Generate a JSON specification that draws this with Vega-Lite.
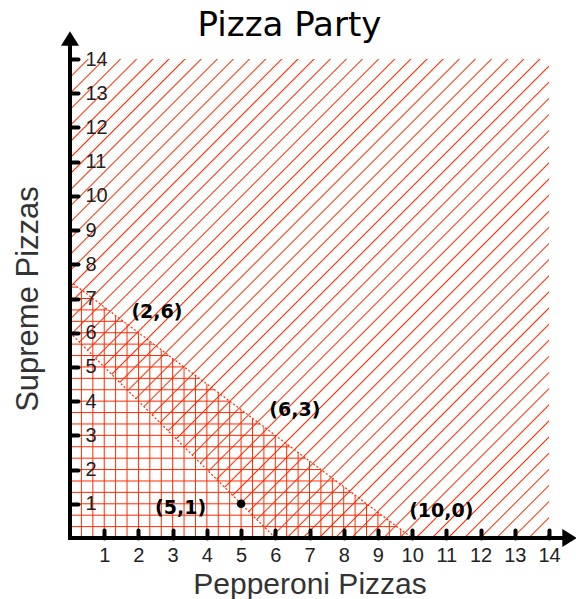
{
  "$schema": "https://vega.github.io/schema/vega-lite/v6.json",
  "width": 479,
  "height": 479,
  "autosize": {"type": "none"},
  "padding": {"left": 70, "top": 59, "right": 27, "bottom": 61},
  "background": "white",
  "title": {"text": "Pizza Party", "font": "DejaVu Sans", "fontSize": 34, "fontWeight": "normal", "color": "black", "anchor": "middle", "frame": "group", "dx": -20, "dy": 39, "baseline": "alphabetic", "offset": 0},
  "config": {
    "view": {"stroke": null},
    "axis": {"labelOverlap": false, "labelFlush": false, "tickCount": 14, "domain": false, "grid": false,
      "tickColor": "black", "tickWidth": 4, "tickSize": -8, "tickCap": "round",
      "labelFont": "Liberation Sans", "labelFontSize": 20, "labelColor": "#222",
      "titleFont": "Liberation Sans", "titleFontWeight": "normal", "titleColor": "#333"}
  },
  "datasets": {
    "atLeastSix": [{"x": 0, "y": 6}, {"x": 6, "y": 0}, {"x": 14, "y": 0}],
    "budget": [{"x": 0, "y": 7.5}, {"x": 10, "y": 0}],
    "points": [
      {"x": 2, "y": 6, "label": "(2,6)"},
      {"x": 6, "y": 3, "label": "(6,3)"},
      {"x": 10, "y": 0, "label": "(10,0)"},
      {"x": 5, "y": 1, "label": "(5,1)"}
    ]
  },
  "layer": [
    {
      "data": {"name": "budget"},
      "mark": {"type": "area", "fill": {"gradient": "linear", "x1": 0, "y1": 0, "x2": 1, "y2": 0, "stops": [
        {"offset": 0, "color": "rgba(255,42,0,0)"},
        {"offset": 0.0304, "color": "rgba(255,42,0,0)"}, {"offset": 0.0333, "color": "#ff2a00"}, {"offset": 0.0362, "color": "rgba(255,42,0,0)"},
        {"offset": 0.0638, "color": "rgba(255,42,0,0)"}, {"offset": 0.0667, "color": "#ff2a00"}, {"offset": 0.0696, "color": "rgba(255,42,0,0)"},
        {"offset": 0.0971, "color": "rgba(255,42,0,0)"}, {"offset": 0.1, "color": "#ff2a00"}, {"offset": 0.1029, "color": "rgba(255,42,0,0)"},
        {"offset": 0.1304, "color": "rgba(255,42,0,0)"}, {"offset": 0.1333, "color": "#ff2a00"}, {"offset": 0.1362, "color": "rgba(255,42,0,0)"},
        {"offset": 0.1638, "color": "rgba(255,42,0,0)"}, {"offset": 0.1667, "color": "#ff2a00"}, {"offset": 0.1696, "color": "rgba(255,42,0,0)"},
        {"offset": 0.1971, "color": "rgba(255,42,0,0)"}, {"offset": 0.2, "color": "#ff2a00"}, {"offset": 0.2029, "color": "rgba(255,42,0,0)"},
        {"offset": 0.2304, "color": "rgba(255,42,0,0)"}, {"offset": 0.2333, "color": "#ff2a00"}, {"offset": 0.2362, "color": "rgba(255,42,0,0)"},
        {"offset": 0.2638, "color": "rgba(255,42,0,0)"}, {"offset": 0.2667, "color": "#ff2a00"}, {"offset": 0.2696, "color": "rgba(255,42,0,0)"},
        {"offset": 0.2971, "color": "rgba(255,42,0,0)"}, {"offset": 0.3, "color": "#ff2a00"}, {"offset": 0.3029, "color": "rgba(255,42,0,0)"},
        {"offset": 0.3304, "color": "rgba(255,42,0,0)"}, {"offset": 0.3333, "color": "#ff2a00"}, {"offset": 0.3362, "color": "rgba(255,42,0,0)"},
        {"offset": 0.3638, "color": "rgba(255,42,0,0)"}, {"offset": 0.3667, "color": "#ff2a00"}, {"offset": 0.3696, "color": "rgba(255,42,0,0)"},
        {"offset": 0.3971, "color": "rgba(255,42,0,0)"}, {"offset": 0.4, "color": "#ff2a00"}, {"offset": 0.4029, "color": "rgba(255,42,0,0)"},
        {"offset": 0.4304, "color": "rgba(255,42,0,0)"}, {"offset": 0.4333, "color": "#ff2a00"}, {"offset": 0.4362, "color": "rgba(255,42,0,0)"},
        {"offset": 0.4638, "color": "rgba(255,42,0,0)"}, {"offset": 0.4667, "color": "#ff2a00"}, {"offset": 0.4696, "color": "rgba(255,42,0,0)"},
        {"offset": 0.4971, "color": "rgba(255,42,0,0)"}, {"offset": 0.5, "color": "#ff2a00"}, {"offset": 0.5029, "color": "rgba(255,42,0,0)"},
        {"offset": 0.5304, "color": "rgba(255,42,0,0)"}, {"offset": 0.5333, "color": "#ff2a00"}, {"offset": 0.5362, "color": "rgba(255,42,0,0)"},
        {"offset": 0.5638, "color": "rgba(255,42,0,0)"}, {"offset": 0.5667, "color": "#ff2a00"}, {"offset": 0.5696, "color": "rgba(255,42,0,0)"},
        {"offset": 0.5971, "color": "rgba(255,42,0,0)"}, {"offset": 0.6, "color": "#ff2a00"}, {"offset": 0.6029, "color": "rgba(255,42,0,0)"},
        {"offset": 0.6304, "color": "rgba(255,42,0,0)"}, {"offset": 0.6333, "color": "#ff2a00"}, {"offset": 0.6362, "color": "rgba(255,42,0,0)"},
        {"offset": 0.6638, "color": "rgba(255,42,0,0)"}, {"offset": 0.6667, "color": "#ff2a00"}, {"offset": 0.6696, "color": "rgba(255,42,0,0)"},
        {"offset": 0.6971, "color": "rgba(255,42,0,0)"}, {"offset": 0.7, "color": "#ff2a00"}, {"offset": 0.7029, "color": "rgba(255,42,0,0)"},
        {"offset": 0.7304, "color": "rgba(255,42,0,0)"}, {"offset": 0.7333, "color": "#ff2a00"}, {"offset": 0.7362, "color": "rgba(255,42,0,0)"},
        {"offset": 0.7638, "color": "rgba(255,42,0,0)"}, {"offset": 0.7667, "color": "#ff2a00"}, {"offset": 0.7696, "color": "rgba(255,42,0,0)"},
        {"offset": 0.7971, "color": "rgba(255,42,0,0)"}, {"offset": 0.8, "color": "#ff2a00"}, {"offset": 0.8029, "color": "rgba(255,42,0,0)"},
        {"offset": 0.8304, "color": "rgba(255,42,0,0)"}, {"offset": 0.8333, "color": "#ff2a00"}, {"offset": 0.8362, "color": "rgba(255,42,0,0)"},
        {"offset": 0.8638, "color": "rgba(255,42,0,0)"}, {"offset": 0.8667, "color": "#ff2a00"}, {"offset": 0.8696, "color": "rgba(255,42,0,0)"},
        {"offset": 0.8971, "color": "rgba(255,42,0,0)"}, {"offset": 0.9, "color": "#ff2a00"}, {"offset": 0.9029, "color": "rgba(255,42,0,0)"},
        {"offset": 0.9304, "color": "rgba(255,42,0,0)"}, {"offset": 0.9333, "color": "#ff2a00"}, {"offset": 0.9362, "color": "rgba(255,42,0,0)"},
        {"offset": 0.9638, "color": "rgba(255,42,0,0)"}, {"offset": 0.9667, "color": "#ff2a00"}, {"offset": 0.9696, "color": "rgba(255,42,0,0)"},
        {"offset": 1, "color": "rgba(255,42,0,0)"}
      ]}},
      "encoding": {
        "x": {"field": "x", "type": "quantitative", "scale": {"domain": [0, 14], "nice": false},
          "axis": {"title": "Pepperoni Pizzas", "values": [1,2,3,4,5,6,7,8,9,10,11,12,13,14], "tickCount": 14,
            "labelPadding": 15.5, "labelBaseline": "top", "labelOverlap": false, "labelFlush": false,
            "titleFontSize": 30, "titleY": 55, "titleBaseline": "alphabetic", "zindex": 1}},
        "y": {"field": "y", "type": "quantitative", "scale": {"domain": [0, 14], "nice": false},
          "axis": {"title": "Supreme Pizzas", "values": [1,2,3,4,5,6,7,8,9,10,11,12,13,14], "tickCount": 14,
            "labelPadding": -7, "labelAlign": "left", "labelBaseline": "middle", "labelOverlap": false, "labelFlush": false,
            "titleFontSize": 31, "titleX": -33, "titleY": 239.5, "titleAngle": -90, "titleBaseline": "alphabetic", "zindex": 1}},
        "y2": {"datum": 0}
      }
    },
    {
      "data": {"name": "budget"},
      "mark": {"type": "area", "fill": {"gradient": "linear", "x1": 0, "y1": 0, "x2": 0, "y2": 1, "stops": [
        {"offset": 0, "color": "rgba(255,42,0,0)"},
        {"offset": 0.0183, "color": "rgba(255,42,0,0)"}, {"offset": 0.0222, "color": "#ff2a00"}, {"offset": 0.0261, "color": "rgba(255,42,0,0)"},
        {"offset": 0.0628, "color": "rgba(255,42,0,0)"}, {"offset": 0.0667, "color": "#ff2a00"}, {"offset": 0.0706, "color": "rgba(255,42,0,0)"},
        {"offset": 0.1072, "color": "rgba(255,42,0,0)"}, {"offset": 0.1111, "color": "#ff2a00"}, {"offset": 0.1150, "color": "rgba(255,42,0,0)"},
        {"offset": 0.1517, "color": "rgba(255,42,0,0)"}, {"offset": 0.1556, "color": "#ff2a00"}, {"offset": 0.1595, "color": "rgba(255,42,0,0)"},
        {"offset": 0.1961, "color": "rgba(255,42,0,0)"}, {"offset": 0.2, "color": "#ff2a00"}, {"offset": 0.2039, "color": "rgba(255,42,0,0)"},
        {"offset": 0.2405, "color": "rgba(255,42,0,0)"}, {"offset": 0.2444, "color": "#ff2a00"}, {"offset": 0.2483, "color": "rgba(255,42,0,0)"},
        {"offset": 0.2850, "color": "rgba(255,42,0,0)"}, {"offset": 0.2889, "color": "#ff2a00"}, {"offset": 0.2928, "color": "rgba(255,42,0,0)"},
        {"offset": 0.3294, "color": "rgba(255,42,0,0)"}, {"offset": 0.3333, "color": "#ff2a00"}, {"offset": 0.3372, "color": "rgba(255,42,0,0)"},
        {"offset": 0.3739, "color": "rgba(255,42,0,0)"}, {"offset": 0.3778, "color": "#ff2a00"}, {"offset": 0.3817, "color": "rgba(255,42,0,0)"},
        {"offset": 0.4183, "color": "rgba(255,42,0,0)"}, {"offset": 0.4222, "color": "#ff2a00"}, {"offset": 0.4261, "color": "rgba(255,42,0,0)"},
        {"offset": 0.4628, "color": "rgba(255,42,0,0)"}, {"offset": 0.4667, "color": "#ff2a00"}, {"offset": 0.4706, "color": "rgba(255,42,0,0)"},
        {"offset": 0.5072, "color": "rgba(255,42,0,0)"}, {"offset": 0.5111, "color": "#ff2a00"}, {"offset": 0.5150, "color": "rgba(255,42,0,0)"},
        {"offset": 0.5517, "color": "rgba(255,42,0,0)"}, {"offset": 0.5556, "color": "#ff2a00"}, {"offset": 0.5595, "color": "rgba(255,42,0,0)"},
        {"offset": 0.5961, "color": "rgba(255,42,0,0)"}, {"offset": 0.6, "color": "#ff2a00"}, {"offset": 0.6039, "color": "rgba(255,42,0,0)"},
        {"offset": 0.6405, "color": "rgba(255,42,0,0)"}, {"offset": 0.6444, "color": "#ff2a00"}, {"offset": 0.6483, "color": "rgba(255,42,0,0)"},
        {"offset": 0.6850, "color": "rgba(255,42,0,0)"}, {"offset": 0.6889, "color": "#ff2a00"}, {"offset": 0.6928, "color": "rgba(255,42,0,0)"},
        {"offset": 0.7294, "color": "rgba(255,42,0,0)"}, {"offset": 0.7333, "color": "#ff2a00"}, {"offset": 0.7372, "color": "rgba(255,42,0,0)"},
        {"offset": 0.7739, "color": "rgba(255,42,0,0)"}, {"offset": 0.7778, "color": "#ff2a00"}, {"offset": 0.7817, "color": "rgba(255,42,0,0)"},
        {"offset": 0.8183, "color": "rgba(255,42,0,0)"}, {"offset": 0.8222, "color": "#ff2a00"}, {"offset": 0.8261, "color": "rgba(255,42,0,0)"},
        {"offset": 0.8628, "color": "rgba(255,42,0,0)"}, {"offset": 0.8667, "color": "#ff2a00"}, {"offset": 0.8706, "color": "rgba(255,42,0,0)"},
        {"offset": 0.9072, "color": "rgba(255,42,0,0)"}, {"offset": 0.9111, "color": "#ff2a00"}, {"offset": 0.9150, "color": "rgba(255,42,0,0)"},
        {"offset": 0.9517, "color": "rgba(255,42,0,0)"}, {"offset": 0.9556, "color": "#ff2a00"}, {"offset": 0.9595, "color": "rgba(255,42,0,0)"},
        {"offset": 1, "color": "rgba(255,42,0,0)"}
      ]}},
      "encoding": {
        "x": {"field": "x", "type": "quantitative"},
        "y": {"field": "y", "type": "quantitative"},
        "y2": {"datum": 0}
      }
    },
    {
      "data": {"name": "atLeastSix"},
      "mark": {"type": "area", "fill": {"gradient": "linear", "x1": 0, "y1": 0, "x2": 1, "y2": 1, "stops": [
        {"offset": 0, "color": "rgba(255,42,0,0)"},
        {"offset": 0.0176, "color": "rgba(255,42,0,0)"}, {"offset": 0.0191, "color": "#ff2a00"}, {"offset": 0.0206, "color": "rgba(255,42,0,0)"},
        {"offset": 0.0344, "color": "rgba(255,42,0,0)"}, {"offset": 0.0359, "color": "#ff2a00"}, {"offset": 0.0374, "color": "rgba(255,42,0,0)"},
        {"offset": 0.0513, "color": "rgba(255,42,0,0)"}, {"offset": 0.0528, "color": "#ff2a00"}, {"offset": 0.0543, "color": "rgba(255,42,0,0)"},
        {"offset": 0.0681, "color": "rgba(255,42,0,0)"}, {"offset": 0.0696, "color": "#ff2a00"}, {"offset": 0.0711, "color": "rgba(255,42,0,0)"},
        {"offset": 0.0850, "color": "rgba(255,42,0,0)"}, {"offset": 0.0865, "color": "#ff2a00"}, {"offset": 0.0880, "color": "rgba(255,42,0,0)"},
        {"offset": 0.1018, "color": "rgba(255,42,0,0)"}, {"offset": 0.1033, "color": "#ff2a00"}, {"offset": 0.1048, "color": "rgba(255,42,0,0)"},
        {"offset": 0.1186, "color": "rgba(255,42,0,0)"}, {"offset": 0.1201, "color": "#ff2a00"}, {"offset": 0.1216, "color": "rgba(255,42,0,0)"},
        {"offset": 0.1355, "color": "rgba(255,42,0,0)"}, {"offset": 0.1370, "color": "#ff2a00"}, {"offset": 0.1385, "color": "rgba(255,42,0,0)"},
        {"offset": 0.1523, "color": "rgba(255,42,0,0)"}, {"offset": 0.1538, "color": "#ff2a00"}, {"offset": 0.1553, "color": "rgba(255,42,0,0)"},
        {"offset": 0.1691, "color": "rgba(255,42,0,0)"}, {"offset": 0.1706, "color": "#ff2a00"}, {"offset": 0.1721, "color": "rgba(255,42,0,0)"},
        {"offset": 0.1860, "color": "rgba(255,42,0,0)"}, {"offset": 0.1875, "color": "#ff2a00"}, {"offset": 0.1890, "color": "rgba(255,42,0,0)"},
        {"offset": 0.2028, "color": "rgba(255,42,0,0)"}, {"offset": 0.2043, "color": "#ff2a00"}, {"offset": 0.2058, "color": "rgba(255,42,0,0)"},
        {"offset": 0.2196, "color": "rgba(255,42,0,0)"}, {"offset": 0.2211, "color": "#ff2a00"}, {"offset": 0.2226, "color": "rgba(255,42,0,0)"},
        {"offset": 0.2365, "color": "rgba(255,42,0,0)"}, {"offset": 0.2380, "color": "#ff2a00"}, {"offset": 0.2395, "color": "rgba(255,42,0,0)"},
        {"offset": 0.2533, "color": "rgba(255,42,0,0)"}, {"offset": 0.2548, "color": "#ff2a00"}, {"offset": 0.2563, "color": "rgba(255,42,0,0)"},
        {"offset": 0.2702, "color": "rgba(255,42,0,0)"}, {"offset": 0.2717, "color": "#ff2a00"}, {"offset": 0.2732, "color": "rgba(255,42,0,0)"},
        {"offset": 0.2870, "color": "rgba(255,42,0,0)"}, {"offset": 0.2885, "color": "#ff2a00"}, {"offset": 0.2900, "color": "rgba(255,42,0,0)"},
        {"offset": 0.3038, "color": "rgba(255,42,0,0)"}, {"offset": 0.3053, "color": "#ff2a00"}, {"offset": 0.3068, "color": "rgba(255,42,0,0)"},
        {"offset": 0.3207, "color": "rgba(255,42,0,0)"}, {"offset": 0.3222, "color": "#ff2a00"}, {"offset": 0.3237, "color": "rgba(255,42,0,0)"},
        {"offset": 0.3375, "color": "rgba(255,42,0,0)"}, {"offset": 0.3390, "color": "#ff2a00"}, {"offset": 0.3405, "color": "rgba(255,42,0,0)"},
        {"offset": 0.3543, "color": "rgba(255,42,0,0)"}, {"offset": 0.3558, "color": "#ff2a00"}, {"offset": 0.3573, "color": "rgba(255,42,0,0)"},
        {"offset": 0.3712, "color": "rgba(255,42,0,0)"}, {"offset": 0.3727, "color": "#ff2a00"}, {"offset": 0.3742, "color": "rgba(255,42,0,0)"},
        {"offset": 0.3880, "color": "rgba(255,42,0,0)"}, {"offset": 0.3895, "color": "#ff2a00"}, {"offset": 0.3910, "color": "rgba(255,42,0,0)"},
        {"offset": 0.4049, "color": "rgba(255,42,0,0)"}, {"offset": 0.4064, "color": "#ff2a00"}, {"offset": 0.4079, "color": "rgba(255,42,0,0)"},
        {"offset": 0.4217, "color": "rgba(255,42,0,0)"}, {"offset": 0.4232, "color": "#ff2a00"}, {"offset": 0.4247, "color": "rgba(255,42,0,0)"},
        {"offset": 0.4385, "color": "rgba(255,42,0,0)"}, {"offset": 0.4400, "color": "#ff2a00"}, {"offset": 0.4415, "color": "rgba(255,42,0,0)"},
        {"offset": 0.4554, "color": "rgba(255,42,0,0)"}, {"offset": 0.4569, "color": "#ff2a00"}, {"offset": 0.4584, "color": "rgba(255,42,0,0)"},
        {"offset": 0.4722, "color": "rgba(255,42,0,0)"}, {"offset": 0.4737, "color": "#ff2a00"}, {"offset": 0.4752, "color": "rgba(255,42,0,0)"},
        {"offset": 0.4890, "color": "rgba(255,42,0,0)"}, {"offset": 0.4905, "color": "#ff2a00"}, {"offset": 0.4920, "color": "rgba(255,42,0,0)"},
        {"offset": 0.5059, "color": "rgba(255,42,0,0)"}, {"offset": 0.5074, "color": "#ff2a00"}, {"offset": 0.5089, "color": "rgba(255,42,0,0)"},
        {"offset": 0.5227, "color": "rgba(255,42,0,0)"}, {"offset": 0.5242, "color": "#ff2a00"}, {"offset": 0.5257, "color": "rgba(255,42,0,0)"},
        {"offset": 0.5396, "color": "rgba(255,42,0,0)"}, {"offset": 0.5411, "color": "#ff2a00"}, {"offset": 0.5426, "color": "rgba(255,42,0,0)"},
        {"offset": 0.5564, "color": "rgba(255,42,0,0)"}, {"offset": 0.5579, "color": "#ff2a00"}, {"offset": 0.5594, "color": "rgba(255,42,0,0)"},
        {"offset": 0.5732, "color": "rgba(255,42,0,0)"}, {"offset": 0.5747, "color": "#ff2a00"}, {"offset": 0.5762, "color": "rgba(255,42,0,0)"},
        {"offset": 0.5901, "color": "rgba(255,42,0,0)"}, {"offset": 0.5916, "color": "#ff2a00"}, {"offset": 0.5931, "color": "rgba(255,42,0,0)"},
        {"offset": 0.6069, "color": "rgba(255,42,0,0)"}, {"offset": 0.6084, "color": "#ff2a00"}, {"offset": 0.6099, "color": "rgba(255,42,0,0)"},
        {"offset": 0.6237, "color": "rgba(255,42,0,0)"}, {"offset": 0.6252, "color": "#ff2a00"}, {"offset": 0.6267, "color": "rgba(255,42,0,0)"},
        {"offset": 0.6406, "color": "rgba(255,42,0,0)"}, {"offset": 0.6421, "color": "#ff2a00"}, {"offset": 0.6436, "color": "rgba(255,42,0,0)"},
        {"offset": 0.6574, "color": "rgba(255,42,0,0)"}, {"offset": 0.6589, "color": "#ff2a00"}, {"offset": 0.6604, "color": "rgba(255,42,0,0)"},
        {"offset": 0.6742, "color": "rgba(255,42,0,0)"}, {"offset": 0.6757, "color": "#ff2a00"}, {"offset": 0.6772, "color": "rgba(255,42,0,0)"},
        {"offset": 0.6911, "color": "rgba(255,42,0,0)"}, {"offset": 0.6926, "color": "#ff2a00"}, {"offset": 0.6941, "color": "rgba(255,42,0,0)"},
        {"offset": 0.7079, "color": "rgba(255,42,0,0)"}, {"offset": 0.7094, "color": "#ff2a00"}, {"offset": 0.7109, "color": "rgba(255,42,0,0)"},
        {"offset": 0.7248, "color": "rgba(255,42,0,0)"}, {"offset": 0.7263, "color": "#ff2a00"}, {"offset": 0.7278, "color": "rgba(255,42,0,0)"},
        {"offset": 0.7416, "color": "rgba(255,42,0,0)"}, {"offset": 0.7431, "color": "#ff2a00"}, {"offset": 0.7446, "color": "rgba(255,42,0,0)"},
        {"offset": 0.7584, "color": "rgba(255,42,0,0)"}, {"offset": 0.7599, "color": "#ff2a00"}, {"offset": 0.7614, "color": "rgba(255,42,0,0)"},
        {"offset": 0.7753, "color": "rgba(255,42,0,0)"}, {"offset": 0.7768, "color": "#ff2a00"}, {"offset": 0.7783, "color": "rgba(255,42,0,0)"},
        {"offset": 0.7921, "color": "rgba(255,42,0,0)"}, {"offset": 0.7936, "color": "#ff2a00"}, {"offset": 0.7951, "color": "rgba(255,42,0,0)"},
        {"offset": 0.8089, "color": "rgba(255,42,0,0)"}, {"offset": 0.8104, "color": "#ff2a00"}, {"offset": 0.8119, "color": "rgba(255,42,0,0)"},
        {"offset": 0.8258, "color": "rgba(255,42,0,0)"}, {"offset": 0.8273, "color": "#ff2a00"}, {"offset": 0.8288, "color": "rgba(255,42,0,0)"},
        {"offset": 0.8426, "color": "rgba(255,42,0,0)"}, {"offset": 0.8441, "color": "#ff2a00"}, {"offset": 0.8456, "color": "rgba(255,42,0,0)"},
        {"offset": 0.8595, "color": "rgba(255,42,0,0)"}, {"offset": 0.8610, "color": "#ff2a00"}, {"offset": 0.8625, "color": "rgba(255,42,0,0)"},
        {"offset": 0.8763, "color": "rgba(255,42,0,0)"}, {"offset": 0.8778, "color": "#ff2a00"}, {"offset": 0.8793, "color": "rgba(255,42,0,0)"},
        {"offset": 0.8931, "color": "rgba(255,42,0,0)"}, {"offset": 0.8946, "color": "#ff2a00"}, {"offset": 0.8961, "color": "rgba(255,42,0,0)"},
        {"offset": 0.9100, "color": "rgba(255,42,0,0)"}, {"offset": 0.9115, "color": "#ff2a00"}, {"offset": 0.9130, "color": "rgba(255,42,0,0)"},
        {"offset": 0.9268, "color": "rgba(255,42,0,0)"}, {"offset": 0.9283, "color": "#ff2a00"}, {"offset": 0.9298, "color": "rgba(255,42,0,0)"},
        {"offset": 0.9436, "color": "rgba(255,42,0,0)"}, {"offset": 0.9451, "color": "#ff2a00"}, {"offset": 0.9466, "color": "rgba(255,42,0,0)"},
        {"offset": 0.9605, "color": "rgba(255,42,0,0)"}, {"offset": 0.9620, "color": "#ff2a00"}, {"offset": 0.9635, "color": "rgba(255,42,0,0)"},
        {"offset": 0.9773, "color": "rgba(255,42,0,0)"}, {"offset": 0.9788, "color": "#ff2a00"}, {"offset": 0.9803, "color": "rgba(255,42,0,0)"},
        {"offset": 0.9942, "color": "rgba(255,42,0,0)"}, {"offset": 0.9957, "color": "#ff2a00"}, {"offset": 0.9972, "color": "rgba(255,42,0,0)"},
        {"offset": 1, "color": "rgba(255,42,0,0)"}
      ]}},
      "encoding": {
        "x": {"field": "x", "type": "quantitative"},
        "y": {"field": "y", "type": "quantitative"},
        "y2": {"datum": 14}
      }
    },
    {
      "data": {"name": "budget"},
      "mark": {"type": "line", "stroke": "#ff2a00", "strokeWidth": 1.2, "strokeDash": [2, 2]},
      "encoding": {"x": {"field": "x", "type": "quantitative"}, "y": {"field": "y", "type": "quantitative"}}
    },
    {
      "data": {"name": "atLeastSix"},
      "transform": [{"filter": "datum.x <= 6"}],
      "mark": {"type": "line", "stroke": "#ff2a00", "strokeWidth": 1.2, "strokeDash": [2, 2]},
      "encoding": {"x": {"field": "x", "type": "quantitative"}, "y": {"field": "y", "type": "quantitative"}}
    },
    {
      "data": {"values": [{}]},
      "mark": {"type": "rule", "color": "black", "strokeWidth": 4, "strokeCap": "square"},
      "encoding": {"x": {"datum": 0}, "y": {"datum": 0}, "y2": {"datum": 14.55}}
    },
    {
      "data": {"values": [{}]},
      "mark": {"type": "rule", "color": "black", "strokeWidth": 4, "strokeCap": "square"},
      "encoding": {"y": {"datum": 0}, "x": {"datum": 0}, "x2": {"datum": 14.55}}
    },
    {
      "data": {"values": [{}]},
      "mark": {"type": "point", "shape": "M0,-0.8L1,0.8L-1,0.8Z", "filled": true, "color": "black", "opacity": 1, "size": 324},
      "encoding": {"x": {"datum": 0}, "y": {"datum": 14.6}}
    },
    {
      "data": {"values": [{}]},
      "mark": {"type": "point", "shape": "M0.8,0L-0.8,1L-0.8,-1Z", "filled": true, "color": "black", "opacity": 1, "size": 324},
      "encoding": {"x": {"datum": 14.6}, "y": {"datum": 0}}
    },
    {
      "data": {"name": "points"},
      "transform": [{"filter": "datum.label === '(5,1)'"}],
      "mark": {"type": "point", "filled": true, "color": "black", "opacity": 1, "size": 75},
      "encoding": {"x": {"field": "x", "type": "quantitative"}, "y": {"field": "y", "type": "quantitative"}}
    },
    {
      "data": {"name": "points"},
      "transform": [{"filter": "datum.label === '(2,6)'"}],
      "mark": {"type": "text", "font": "DejaVu Sans", "fontWeight": "bold", "fontSize": 19, "color": "black", "align": "left", "baseline": "middle", "dx": -7, "dy": -21},
      "encoding": {"x": {"field": "x", "type": "quantitative"}, "y": {"field": "y", "type": "quantitative"}, "text": {"field": "label"}}
    },
    {
      "data": {"name": "points"},
      "transform": [{"filter": "datum.label === '(6,3)'"}],
      "mark": {"type": "text", "font": "DejaVu Sans", "fontWeight": "bold", "fontSize": 19, "color": "black", "align": "left", "baseline": "middle", "dx": -6, "dy": -25},
      "encoding": {"x": {"field": "x", "type": "quantitative"}, "y": {"field": "y", "type": "quantitative"}, "text": {"field": "label"}}
    },
    {
      "data": {"name": "points"},
      "transform": [{"filter": "datum.label === '(10,0)'"}],
      "mark": {"type": "text", "font": "DejaVu Sans", "fontWeight": "bold", "fontSize": 19, "color": "black", "align": "left", "baseline": "middle", "dx": -3, "dy": -27},
      "encoding": {"x": {"field": "x", "type": "quantitative"}, "y": {"field": "y", "type": "quantitative"}, "text": {"field": "label"}}
    },
    {
      "data": {"name": "points"},
      "transform": [{"filter": "datum.label === '(5,1)'"}],
      "mark": {"type": "text", "font": "DejaVu Sans", "fontWeight": "bold", "fontSize": 19, "color": "black", "align": "right", "baseline": "middle", "dx": -35, "dy": 4},
      "encoding": {"x": {"field": "x", "type": "quantitative"}, "y": {"field": "y", "type": "quantitative"}, "text": {"field": "label"}}
    }
  ]
}
